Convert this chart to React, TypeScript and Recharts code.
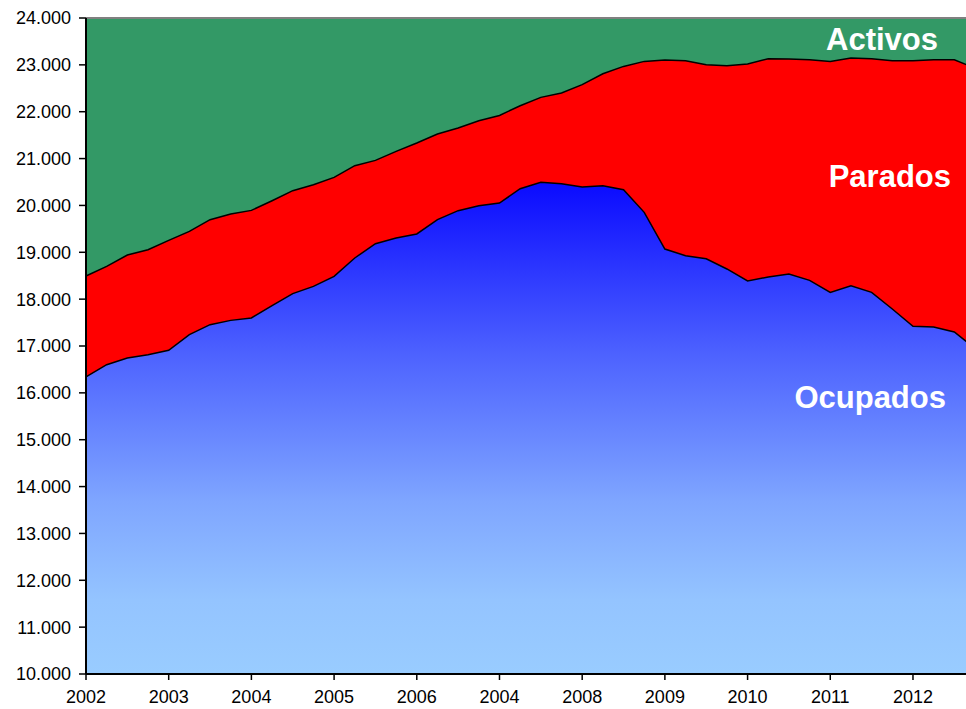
import { AreaChart, Area, XAxis, YAxis, CartesianGrid, ReferenceLine } from "recharts";

// trimestres 2002T1 .. 2012T4
const quarters: string[] = [];
for (let y = 2002; y <= 2012; y++) for (let q = 1; q <= 4; q++) quarters.push(`${y}T${q}`);

// etiquetas del eje tal como aparecen (incluido el "2004" repetido)
const yearLabels = ["2002", "2003", "2004", "2005", "2006", "2004", "2008", "2009", "2010", "2011", "2012"];

const yTicks = [10000, 11000, 12000, 13000, 14000, 15000, 16000, 17000, 18000, 19000, 20000, 21000, 22000, 23000, 24000];

// miles de personas
const activos = [
  18494, 18699, 18942, 19055, 19254, 19446, 19696, 19817, 19894, 20101, 20315,
  20443, 20598, 20848, 20961, 21153, 21332, 21525, 21653, 21808, 21921, 22128,
  22306, 22399, 22577, 22811, 22967, 23074, 23104, 23089, 23003, 22982, 23018,
  23131, 23125, 23110, 23074, 23146, 23131, 23089, 23089, 23110, 23110, 22929,
];

const ocupados = [
  16339, 16601, 16744, 16815, 16907, 17242, 17455, 17547, 17598, 17860, 18117,
  18272, 18486, 18878, 19183, 19305, 19391, 19696, 19888, 19994, 20052, 20357,
  20492, 20464, 20394, 20421, 20336, 19852, 19070, 18927, 18863, 18644, 18388,
  18473, 18537, 18400, 18144, 18287, 18144, 17790, 17419, 17406, 17299, 16947,
];

const data = quarters.map((q, i) => ({ q, activos: activos[i], ocupados: ocupados[i] }));

const FONT = "'Liberation Sans', Arial, sans-serif";

const fmtMiles = (v: number) => String(v).replace(/\B(?=(\d{3})+(?!\d))/g, ".");

export default function App() {
  return (
    <div style={{ position: "relative", width: 966, height: 709, overflow: "hidden", background: "#fff" }}>
      <style>{"body{margin:0}"}</style>
      <AreaChart width={975} height={709} data={data} margin={{ top: 18, right: 0, bottom: 0, left: 0 }}>
        <defs>
          <linearGradient id="gradOcu" x1="0" y1="0" x2="0" y2="1">
            <stop offset="0%" stopColor="#0a0aff" />
            <stop offset="35%" stopColor="#4d62ff" />
            <stop offset="65%" stopColor="#7fa6ff" />
            <stop offset="85%" stopColor="#94c4ff" />
            <stop offset="100%" stopColor="#99ccff" />
          </linearGradient>
        </defs>
        <CartesianGrid fill="#339966" fillOpacity={1} horizontal={false} vertical={false} />
        <XAxis
          dataKey="q"
          interval={3}
          height={35}
          tickSize={6}
          tickMargin={10}
          tickFormatter={(v: string) => yearLabels[Number(v.slice(0, 4)) - 2002]}
          axisLine={{ stroke: "#000", strokeWidth: 2 }}
          tickLine={{ stroke: "#000", strokeWidth: 1.5 }}
          tick={{ fill: "#000", fontSize: 18, fontFamily: FONT }}
        />
        <YAxis
          width={86}
          domain={[10000, 24000]}
          ticks={yTicks}
          tickSize={7}
          tickMargin={8}
          tickFormatter={fmtMiles}
          axisLine={{ stroke: "#000", strokeWidth: 2 }}
          tickLine={{ stroke: "#000", strokeWidth: 1.5 }}
          tick={{ fill: "#000", fontSize: 18, fontFamily: FONT }}
        />
        <ReferenceLine y={24000} stroke="#808080" strokeWidth={2} />
        <Area type="linear" dataKey="activos" fill="#ff0000" fillOpacity={1} stroke="#000" strokeWidth={1.5} dot={false} isAnimationActive={false} />
        <Area type="linear" dataKey="ocupados" fill="url(#gradOcu)" fillOpacity={1} stroke="#000" strokeWidth={1.5} dot={false} isAnimationActive={false} />
      </AreaChart>
      <svg width={966} height={709} style={{ position: "absolute", left: 0, top: 0, pointerEvents: "none" }}>
        <g fill="#fff" fontFamily={FONT} fontWeight="bold" fontSize={31} textAnchor="end">
          <text x={938} y={50}>Activos</text>
          <text x={951} y={187}>Parados</text>
          <text x={946} y={408}>Ocupados</text>
        </g>
      </svg>
    </div>
  );
}
